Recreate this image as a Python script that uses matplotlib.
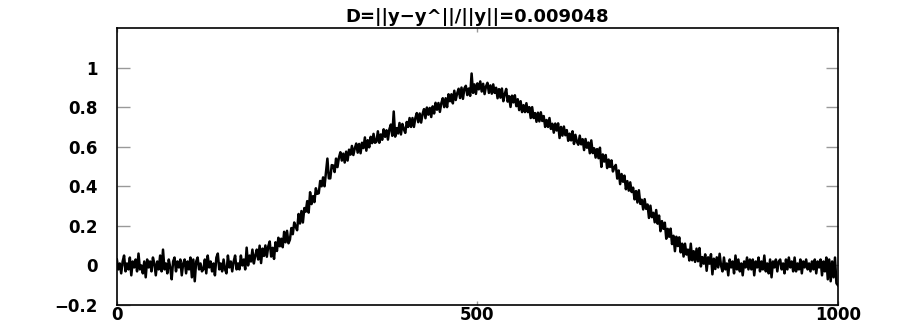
import numpy as np
import matplotlib
matplotlib.use("Agg")
import matplotlib.pyplot as plt

title_text = "D=||y\u2212y^||/||y||=0.009048"
x_ticks = [0, 500, 1000]
x_tick_labels = ["0", "500", "1000"]
y_ticks = [-0.2, 0, 0.2, 0.4, 0.6, 0.8, 1]
y_tick_labels = ["\u22120.2", "0", "0.2", "0.4", "0.6", "0.8", "1"]

# sample index (every 2nd sample of the 1000-sample signal)
x_values = list(range(0, 1001, 2))
# signal values
y_values = [
    0.03, -0.02, 0.01, -0.04, 0.02, 0.05, -0.03, 0.01, -0.02, 0.04, -0.05, 0.02, -0.01, 0.03, -0.03, 0.06, -0.02, 0.00, -0.04, 0.02,
    -0.06, 0.03, -0.01, 0.02, -0.03, 0.04, 0.01, -0.05, 0.02, -0.02, 0.05, -0.03, 0.08, -0.02, 0.01, -0.04, 0.03, -0.01, -0.07, 0.02,
    0.04, -0.03, 0.02, -0.01, 0.03, -0.05, 0.01, 0.03, -0.04, 0.02, -0.02, 0.04, -0.06, 0.03, -0.08, 0.02, 0.04, -0.02, 0.01, -0.03,
    -0.02, 0.03, -0.04, 0.05, -0.01, 0.02, -0.03, 0.01, -0.05, 0.04, 0.06, -0.02, 0.01, -0.03, 0.03, -0.02, -0.04, 0.05, -0.01, 0.02,
    -0.03, 0.02, 0.05, -0.02, 0.01, -0.02, 0.05, 0.00, 0.03, -0.02, 0.09, 0.00, 0.05, 0.02, 0.08, 0.01, 0.05, 0.08, 0.03, 0.10,
    0.012, 0.085, 0.048, 0.101, 0.044, 0.097, 0.121, 0.045, 0.089, 0.033, 0.117, 0.073, 0.14, 0.097, 0.135, 0.092, 0.17, 0.117, 0.175, 0.112,
    0.13, 0.189, 0.158, 0.217, 0.196, 0.178, 0.26, 0.212, 0.275, 0.217, 0.29, 0.272, 0.325, 0.267, 0.37, 0.31, 0.35, 0.32, 0.39, 0.362,
    0.365, 0.427, 0.40, 0.445, 0.40, 0.47, 0.54, 0.44, 0.44, 0.507, 0.505, 0.472, 0.54, 0.497, 0.545, 0.572, 0.53, 0.565, 0.52, 0.575,
    0.53, 0.585, 0.56, 0.604, 0.558, 0.592, 0.616, 0.57, 0.614, 0.567, 0.62, 0.593, 0.647, 0.58, 0.633, 0.597, 0.65, 0.618, 0.665, 0.62,
    0.625, 0.678, 0.62, 0.662, 0.635, 0.688, 0.65, 0.683, 0.636, 0.689, 0.712, 0.655, 0.778, 0.651, 0.694, 0.667, 0.72, 0.662, 0.715, 0.688,
    0.67, 0.725, 0.70, 0.745, 0.70, 0.745, 0.70, 0.745, 0.77, 0.724, 0.768, 0.722, 0.766, 0.79, 0.744, 0.798, 0.762, 0.796, 0.75, 0.804,
    0.768, 0.822, 0.787, 0.821, 0.776, 0.82, 0.845, 0.80, 0.845, 0.80, 0.865, 0.83, 0.865, 0.819, 0.883, 0.836, 0.87, 0.893, 0.846, 0.899,
    0.842, 0.895, 0.908, 0.861, 0.894, 0.857, 0.97, 0.872, 0.915, 0.867, 0.92, 0.89, 0.93, 0.879, 0.918, 0.866, 0.905, 0.923, 0.872, 0.91,
    0.868, 0.915, 0.872, 0.898, 0.845, 0.891, 0.848, 0.894, 0.83, 0.866, 0.892, 0.828, 0.855, 0.801, 0.858, 0.824, 0.86, 0.805, 0.84, 0.785,
    0.83, 0.775, 0.81, 0.775, 0.82, 0.775, 0.80, 0.745, 0.80, 0.745, 0.77, 0.726, 0.772, 0.728, 0.774, 0.73, 0.755, 0.70, 0.735, 0.70,
    0.745, 0.69, 0.716, 0.671, 0.717, 0.682, 0.718, 0.644, 0.70, 0.656, 0.702, 0.658, 0.684, 0.63, 0.666, 0.632, 0.678, 0.614, 0.66, 0.625,
    0.61, 0.656, 0.612, 0.638, 0.583, 0.639, 0.595, 0.621, 0.567, 0.632, 0.568, 0.592, 0.545, 0.588, 0.542, 0.595, 0.498, 0.561, 0.525, 0.558,
    0.492, 0.535, 0.498, 0.531, 0.475, 0.496, 0.508, 0.439, 0.48, 0.411, 0.462, 0.423, 0.454, 0.385, 0.426, 0.378, 0.42, 0.371, 0.393, 0.334,
    0.376, 0.318, 0.38, 0.311, 0.332, 0.283, 0.335, 0.286, 0.308, 0.24, 0.302, 0.244, 0.266, 0.218, 0.28, 0.211, 0.252, 0.173, 0.224, 0.185,
    0.216, 0.135, 0.185, 0.145, 0.186, 0.108, 0.15, 0.072, 0.145, 0.098, 0.142, 0.066, 0.11, 0.045, 0.11, 0.055, 0.08, 0.025, 0.11, 0.026,
    0.072, 0.018, 0.085, 0.021, 0.088, -0.005, 0.042, 0.009, 0.056, -0.027, 0.041, 0.009, 0.057, -0.045, 0.034, -0.018, 0.041, -0.01, 0.059, -0.002,
    -0.03, 0.04, -0.02, 0.01, -0.05, 0.03, -0.01, 0.02, -0.04, 0.05, -0.02, 0.03, -0.03, 0.01, -0.05, 0.02, -0.01, 0.04, -0.02, 0.03,
    -0.02, 0.03, -0.05, 0.02, -0.01, 0.04, -0.03, 0.02, -0.02, 0.05, -0.03, 0.01, -0.04, 0.03, -0.06, 0.02, -0.01, 0.03, -0.03, 0.02,
    0.03, -0.02, 0.01, -0.04, 0.03, -0.02, 0.04, -0.01, 0.02, -0.03, 0.04, -0.03, 0.01, -0.02, 0.03, -0.04, 0.02, -0.01, 0.03, -0.02,
    0.01, -0.03, 0.02, -0.02, 0.03, -0.04, 0.02, -0.01, 0.03, -0.05, 0.02, -0.03, 0.04, -0.07, 0.03, -0.08, 0.02, -0.06, 0.04, -0.09,
    -0.10,
]

plt.rcParams['font.family'] = ['DejaVu Sans']
fig = plt.figure(figsize=(8.99, 3.24), dpi=100)
ax = fig.add_axes([0.130, 0.0586, 0.802, 0.855])

ax.plot(x_values, y_values, color='black', linewidth=1.8)

ax.set_xlim(0, 1000)
ax.set_ylim(-0.2, 1.2)
ax.set_xticks(x_ticks)
ax.set_xticklabels(x_tick_labels, fontsize=12, fontweight='bold')
ax.set_yticks(y_ticks)
ax.set_yticklabels(y_tick_labels, fontsize=12, fontweight='bold')

ax.tick_params(axis='y', direction='in', left=True, right=True, length=9,
               width=1, color='#999999', pad=14)
ax.tick_params(axis='x', direction='in', top=True, bottom=True, length=3,
               width=1, color='#999999', pad=1)
for s in ax.spines.values():
    s.set_linewidth(1.2)
    s.set_color('black')

ax.set_title(title_text, fontsize=13, fontweight='bold', pad=4)

fig.savefig("out.png", dpi=100)
